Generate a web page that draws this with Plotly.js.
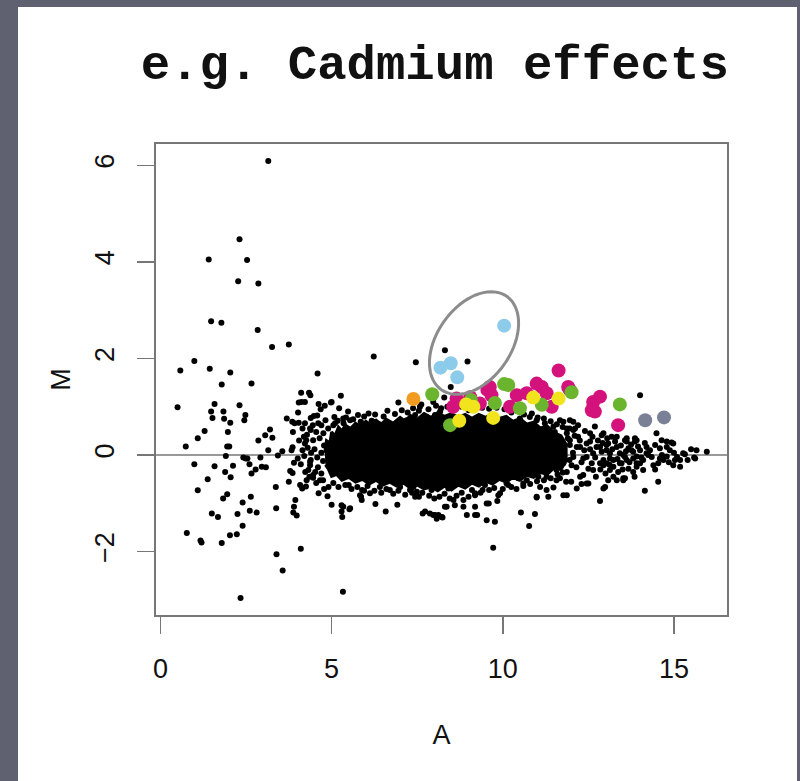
<!DOCTYPE html>
<html>
<head>
<meta charset="utf-8">
<script src="https://cdn.plot.ly/plotly-3.0.1.min.js"></script>
<style>
  html, body { margin: 0; padding: 0; width: 800px; height: 781px; overflow: hidden; background: #5f6170; }
  #panel { position: absolute; left: 18px; top: 7px; width: 779px; height: 774px; background: #ffffff; }
  #chart { width: 779px; height: 774px; }
</style>
</head>
<body>
<div id="panel"><div id="chart"></div></div>
<script>
// ---- Data ----
// Individual black spots: A (x) and M (y)
const blackA = [3.15,2.31,1.41,2.53,2.27,2.86,1.48,1.78,2.84,3.26,3.75,6.23,7.46,0.58,0.99,1.44,2.04,4.59,
 8.31,8.97,8.48,8.29,14.01,
 0.50,0.74,0.99,1.09,0.77,1.20,1.17,1.29,1.09,1.38,1.58,1.58,1.48,1.52,1.84,1.86,1.79,2.31,2.66,2.48,2.45,2.04,1.97,1.95,2.01,1.91,1.89,2.05,2.12,1.95,1.83,1.50,1.68,1.79,2.03,2.23,2.25,2.40,2.40,2.64,2.61,2.81,2.34,2.49,2.42,2.54,2.66,2.60,2.86,3.06,3.20,3.27,3.15,2.92,2.78,2.96,3.08,3.37,3.38,3.39,3.57,3.43,3.56,3.69,3.85,3.87,3.92,4.04,3.86,3.83,3.90,3.75,3.79,3.86,3.94,3.90,3.88,3.98,4.10,4.02,4.04,4.11,4.22,4.34,4.38,4.12,4.62,4.39,4.48,4.19,4.26,4.39,4.01,4.10,4.23,4.08,4.14,4.37,4.39,4.62,4.46,4.75,4.98,5.27,5.22,5.48,5.54,5.08,5.35,5.00,5.29,5.31,5.52,5.33,4.91,5.50,5.86,5.89,6.12,6.28,6.58,6.92,6.95,5.85,6.17,6.38,7.66,7.97,8.07,7.44,7.49,7.39,
 5.00,5.88,6.22,6.46,6.70,7.19,7.44,7.58,7.78,8.02,8.17,7.97,
 5.34,5.29,5.54,5.83,5.88,7.73,7.87,8.02,8.22,8.36,8.60,9.19,7.29,7.00,6.70,6.41,4.66,4.46,4.32,4.37,4.27,4.22,4.37,4.61,4.76,4.46,4.22,5.10,5.34,
 14.49,14.64,14.98,15.27,15.66,15.96,15.62,15.18,15.03,14.79,14.54,14.15,13.52,12.84,11.77,11.48,11.28,10.94,10.77,10.53,10.99,9.72,9.77,9.53,9.25,8.95,9.59,9.84,9.92,9.41,9.19,8.56,8.31,8.12,8.24,8.85,8.85,8.41,7.92,7.80,8.70,10.16,10.60,11.04,12.16,12.26,12.50,12.94,13.13,13.81,14.01,14.40,13.33,11.96,11.77,12.11,12.55,12.89,13.18,13.57,13.86,14.20,13.67,13.42,13.13,12.64,12.35,12.84,12.01,12.45,12.84,12.16,11.77,11.96,11.43,11.52,11.87,11.48,11.87,11.67,13.47,14.25,14.59,14.88,13.91,13.03,13.62,11.09,11.23,10.79,
 12.94,13.62,13.91,14.79,14.93,15.32,15.18,15.09,15.59,14.98,14.69,14.54,14.35,14.20,14.10,13.91,13.81,13.76,14.01,13.57,13.42,13.23,13.03,14.10,13.57,13.37,13.08,14.79,14.59,14.45,13.08,13.33,12.89,12.94,13.13,
 11.67,12.06,11.87,12.20,12.55,12.74,13.03,13.33,13.62,13.86,13.81,13.52,13.23,12.94,12.64,12.35,11.87,11.77,12.06,12.45,12.26,11.96,12.60,13.23,13.67,13.91,13.52,12.99,12.45,11.57,11.09,10.99,11.33,9.53,9.19,9.87,9.19,9.48,10.11,10.45,10.70,11.28,11.57,11.67,11.48,11.23,10.99,10.79,10.50,12.06,12.69,
 5.05,5.18,5.42,5.63,5.77,5.95,6.08,6.27,6.52,6.63,6.85,7.05,7.22,7.38,7.55,7.62,7.83,8.05,8.20,8.38,8.62,8.80,9.00,9.40,9.60,9.82,10.05,10.25,10.42,10.62,10.85,11.02,11.20,11.40,11.58,11.75,4.90,4.70,4.82,4.55,4.65,4.78,4.70,4.58,4.75,4.60,4.50,4.40,4.30,4.52,4.70,
 5.05,5.20,5.40,5.58,5.75,5.95,6.05,6.25,6.45,6.60,6.80,6.95,7.15,7.35,7.55,7.65,7.85,8.00,8.15,8.30,8.45,8.65,8.80,9.00,9.10,9.35,9.60,9.75,10.00,10.25,10.40,10.60,10.80,11.00,11.20,11.40,11.60,11.75,
 11.90,11.95,12.05,12.10,12.15,12.25,12.30,12.38,12.40,12.50,12.55,12.62,12.70,12.72,12.78,12.85,12.92,13.00,13.05,13.12,13.20,13.28,13.35,13.45,13.50,13.60,13.70,13.75,13.85,13.95,14.05,14.15,14.30,14.45,14.65,14.85,15.00,15.40,15.50,11.95,12.00,12.30,11.85,12.20,
 4.15,4.28,4.45,4.58,4.68,4.80,4.35,4.55,4.78,4.25,4.88,4.15,4.05,4.20];
const blackM = [6.09,4.47,4.05,4.04,3.60,3.55,2.77,2.74,2.59,2.24,2.29,2.04,1.92,1.75,1.95,1.79,1.71,1.69,
 2.17,1.94,1.41,1.19,1.24,
 0.99,0.18,-0.19,-0.73,-1.61,-1.81,-1.77,0.50,0.35,-0.50,-0.23,1.06,0.90,0.77,0.90,0.75,1.46,1.03,1.48,0.83,0.72,0.67,0.48,0.18,0.18,-0.02,-0.35,-0.46,-0.22,-0.81,-0.90,-1.21,-1.28,-1.82,-1.66,-1.64,-1.22,-1.46,-0.98,-0.86,-1.15,-1.19,-2.96,-0.07,-0.05,-0.07,-0.38,-0.19,0.30,0.41,0.53,0.36,0.10,-0.05,-0.30,-0.24,-0.25,-0.66,-1.10,-2.05,-2.39,-0.01,0.08,0.76,0.69,0.48,0.66,0.67,0.16,0.10,-0.16,-0.55,-0.33,-0.37,-0.93,-1.07,-1.19,-1.25,-1.94,0.88,1.09,1.29,1.10,1.29,1.24,1.10,1.06,0.77,0.81,0.38,0.31,0.52,-0.07,-0.19,-0.35,-0.62,-0.69,-0.21,-0.10,-0.79,-0.47,-0.52,1.09,1.23,0.97,0.90,0.72,0.79,0.66,-1.03,-1.04,-1.28,-1.12,-2.83,-0.66,-0.62,-0.86,-0.72,-0.79,-1.01,-1.17,-1.03,1.09,0.69,0.71,0.64,-1.21,-1.24,-1.32,-0.86,-0.76,-0.66,
 1.10,0.66,0.69,0.59,0.62,0.72,0.83,1.00,0.79,0.83,0.90,1.10,
 -1.07,-1.17,-1.10,-0.83,-0.93,-1.17,-1.21,-1.24,-1.28,-1.07,-1.04,-1.07,-0.72,-0.66,-0.72,-0.66,-0.52,-0.41,-0.31,-0.14,-0.52,0.66,0.55,0.66,0.45,0.31,0.24,0.66,0.76,
 0.45,0.31,0.24,0.04,0.10,0.07,-0.07,-0.24,-0.10,-0.03,-0.55,-0.74,-0.48,-0.95,-0.83,-0.67,-0.72,-1.22,-1.47,-1.19,-0.88,-1.92,-1.38,-1.35,-1.24,-1.24,-1.00,-0.95,-0.79,-0.72,-0.83,-0.93,-1.07,-1.24,-1.29,-1.07,-0.93,-0.69,-0.72,-0.62,-0.52,-0.62,-0.59,-0.45,-0.69,-0.45,-0.59,-0.69,-0.31,-0.35,-0.17,-0.21,-0.52,0.72,0.69,0.55,0.45,0.41,0.38,0.31,0.28,0.17,0.14,0.04,-0.07,0.04,-0.07,-0.17,-0.21,0.24,0.17,0.17,0.10,0.31,0.31,0.48,0.45,-0.24,-0.35,-0.48,-0.17,0.00,-0.07,0.10,-0.03,0.10,-0.10,0.24,0.52,0.45,
 0.45,0.35,0.31,0.28,0.26,0.02,-0.10,-0.04,-0.05,-0.21,-0.10,-0.17,-0.04,0.04,-0.10,-0.17,-0.07,0.10,0.10,-0.04,-0.17,-0.24,-0.17,-0.31,-0.48,-0.35,-0.52,0.17,0.14,0.21,0.24,0.17,0.07,-0.10,0.04,
 0.72,0.69,0.55,0.38,0.28,0.17,0.21,0.38,0.28,0.35,0.07,0.00,-0.10,-0.21,-0.31,-0.41,-0.83,-0.17,-0.04,-0.04,0.17,0.21,-0.17,-0.45,-0.28,-0.24,-0.52,-0.66,-0.59,-0.52,-0.66,-0.86,-0.86,-1.00,-1.24,-0.83,-0.79,-0.62,-0.59,-0.48,-0.52,-0.45,-0.31,-0.04,0.59,0.66,0.72,0.79,0.76,0.52,0.59,
 0.62,0.71,0.78,0.74,0.83,0.80,0.86,0.84,0.80,0.92,0.85,0.93,0.88,0.97,0.92,1.05,0.95,1.02,0.97,1.00,0.95,1.00,0.93,0.98,0.96,0.98,0.95,0.88,0.92,0.84,0.86,0.78,0.76,0.70,0.64,0.58,0.55,0.62,0.72,0.48,0.35,0.20,0.05,-0.05,-0.12,-0.25,0.12,0.05,0.15,-0.35,-0.38,
 -0.58,-0.66,-0.62,-0.70,-0.66,-0.74,-0.64,-0.74,-0.78,-0.70,-0.80,-0.74,-0.82,-0.78,-0.86,-0.78,-0.84,-0.90,-0.86,-0.80,-0.90,-0.84,-0.78,-0.86,-0.72,-0.78,-0.72,-0.68,-0.70,-0.66,-0.70,-0.64,-0.60,-0.54,-0.52,-0.48,-0.40,-0.36,
 0.35,-0.10,0.05,0.40,-0.25,0.30,-0.15,0.10,0.50,-0.28,0.12,0.38,-0.05,-0.45,0.30,-0.30,0.25,-0.38,0.35,-0.20,0.12,0.28,-0.08,0.20,-0.30,0.08,-0.15,0.22,-0.45,0.18,-0.05,0.25,0.10,-0.30,0.00,-0.15,0.05,-0.10,0.12,0.55,-0.55,-0.60,-0.55,0.62,
 0.55,0.42,0.62,0.82,0.95,1.02,-0.45,-0.58,-0.70,-0.65,-0.85,0.10,0.30,-0.02];

// Outline of the solid, fully overlapping core of the cloud
const coreA = [4.80,4.85,4.95,5.00,5.10,5.20,5.30,5.40,5.55,5.70,5.85,6.00,6.15,6.30,6.45,6.60,6.80,7.00,7.15,7.30,7.50,7.70,7.90,8.10,8.30,8.50,8.70,8.90,9.10,9.30,9.50,9.70,9.90,10.10,10.30,10.50,10.70,10.90,11.10,11.30,11.50,11.70,11.85,
               11.85,11.70,11.50,11.30,11.10,10.90,10.70,10.50,10.30,10.10,9.90,9.70,9.50,9.30,9.10,8.90,8.70,8.50,8.30,8.10,7.90,7.70,7.50,7.30,7.10,6.90,6.70,6.50,6.30,6.10,5.90,5.70,5.50,5.30,5.15,5.00,4.90,4.82];
const coreM = [0.05,0.30,0.25,0.48,0.40,0.58,0.50,0.62,0.55,0.66,0.58,0.70,0.62,0.72,0.64,0.74,0.66,0.78,0.70,0.82,0.74,0.86,0.78,0.88,0.80,0.86,0.78,0.84,0.76,0.84,0.78,0.86,0.76,0.80,0.70,0.76,0.64,0.68,0.56,0.60,0.46,0.40,0.22,
               -0.12,-0.30,-0.26,-0.40,-0.36,-0.46,-0.42,-0.52,-0.46,-0.56,-0.50,-0.60,-0.54,-0.64,-0.58,-0.68,-0.62,-0.72,-0.64,-0.74,-0.66,-0.70,-0.62,-0.68,-0.58,-0.64,-0.56,-0.62,-0.52,-0.60,-0.50,-0.56,-0.46,-0.52,-0.40,-0.44,-0.28,-0.20];

// Highlighted genes
const magentaA = [11.63,13.37,9.62,9.55,8.65,8.55,9.33,10.41,10.21,11.14,11.28,11.43,11.96,12.64,12.84,12.60,10.70,9.67,10.99,11.91,12.69,9.05];
const magentaM = [1.75,0.62,1.41,1.35,1.17,1.00,1.07,1.24,1.00,1.41,1.28,1.00,1.35,1.10,1.21,0.93,1.28,1.24,1.48,1.41,0.90,1.20];
const greenA = [7.94,8.46,9.07,9.77,10.04,10.16,10.50,11.14,12.01,13.42];
const greenM = [1.26,0.62,1.14,1.08,1.47,1.45,0.97,1.04,1.30,1.05];
const yellowA = [9.14,8.73,9.72,10.89,11.63,8.93];
const yellowM = [1.00,0.71,0.77,1.19,1.17,1.05];
const blueA = [10.04,8.18,8.48,8.67];
const blueM = [2.68,1.81,1.90,1.61];
const orangeA = [7.39];
const orangeM = [1.16];
const slateA = [14.16,14.71];
const slateM = [0.72,0.78];

const xTicks = [0,5,10,15];
const yTicks = [-2,0,2,4,6];

// ---- Ellipse annotation around the light-blue genes (pixel-scaled to axis units) ----
function ellipsePath(cx, cy, aPx, bPx, angDeg, kx, ky) {
  const th = angDeg * Math.PI / 180;
  let d = '';
  for (let i = 0; i <= 72; i++) {
    const t = 2 * Math.PI * i / 72;
    const px = aPx * Math.cos(th) * Math.cos(t) - bPx * Math.sin(th) * Math.sin(t);
    const py = aPx * Math.sin(th) * Math.cos(t) + bPx * Math.cos(th) * Math.sin(t);
    const x = cx + px / kx, y = cy + py / ky;
    d += (i === 0 ? 'M' : 'L') + x.toFixed(4) + ',' + y.toFixed(4) + ' ';
  }
  return d + 'Z';
}

const dot = (c, s) => ({ color: c, size: s, line: { width: 0 } });

const traces = [
  { x: coreA, y: coreM, type: 'scatter', mode: 'lines', fill: 'toself', fillcolor: '#000000',
    line: { color: '#000000', width: 3 }, hoverinfo: 'skip', showlegend: false },
  { x: blackA, y: blackM, type: 'scatter', mode: 'markers', marker: dot('#000000', 6), showlegend: false },
  { x: magentaA, y: magentaM, type: 'scatter', mode: 'markers', marker: dot('#d4127c', 14), showlegend: false },
  { x: greenA, y: greenM, type: 'scatter', mode: 'markers', marker: dot('#6bb52e', 14), showlegend: false },
  { x: yellowA, y: yellowM, type: 'scatter', mode: 'markers', marker: dot('#f2e41c', 14), showlegend: false },
  { x: blueA, y: blueM, type: 'scatter', mode: 'markers', marker: dot('#8dcbea', 14), showlegend: false },
  { x: orangeA, y: orangeM, type: 'scatter', mode: 'markers', marker: dot('#f19c20', 14), showlegend: false },
  { x: slateA, y: slateM, type: 'scatter', mode: 'markers', marker: dot('#7a8096', 14), showlegend: false }
];

const axisFont = { family: 'Liberation Sans, Arial, sans-serif', size: 27, color: '#111111' };

const layout = {
  width: 779, height: 774,
  paper_bgcolor: '#ffffff', plot_bgcolor: '#ffffff',
  margin: { l: 138, r: 70, t: 137, b: 166 },
  title: { text: 'e.g. Cadmium effects', x: 0.535, xref: 'container', xanchor: 'center',
           y: 0.929, yref: 'container', yanchor: 'middle',
           font: { family: 'Liberation Mono, Courier New, monospace', size: 49, color: '#111111', weight: 'bold' } },
  xaxis: { range: [-0.13, 16.55], tickvals: xTicks, ticks: 'outside', ticklen: 17, tickwidth: 1.5,
           tickcolor: '#777777', showline: true, mirror: true, linecolor: '#777777', linewidth: 2,
           showgrid: false, zeroline: false, tickfont: axisFont, ticklabelstandoff: 12,
           title: { text: 'A', font: axisFont, standoff: 42 } },
  yaxis: { range: [-3.31, 6.44], tickvals: yTicks, ticks: 'outside', ticklen: 17, tickwidth: 1.5,
           tickcolor: '#777777', showline: true, mirror: true, linecolor: '#777777', linewidth: 2,
           showgrid: false, zeroline: false, tickfont: axisFont, tickangle: -90, ticklabelstandoff: 12,
           title: { text: 'M', font: axisFont, standoff: 12 } },
  shapes: [
    { type: 'line', xref: 'paper', x0: 0, x1: 1, yref: 'y', y0: 0, y1: 0, layer: 'below',
      line: { color: '#777777', width: 1.5 } },
    { type: 'path', xref: 'x', yref: 'y', path: ellipsePath(9.16, 2.32, 57, 37, 55, 34.23, 48.3),
      line: { color: '#8c8c8c', width: 3 }, fillcolor: 'rgba(0,0,0,0)' }
  ],
  showlegend: false
};

Plotly.newPlot('chart', traces, layout, { staticPlot: true, displayModeBar: false });
</script>
</body>
</html>
